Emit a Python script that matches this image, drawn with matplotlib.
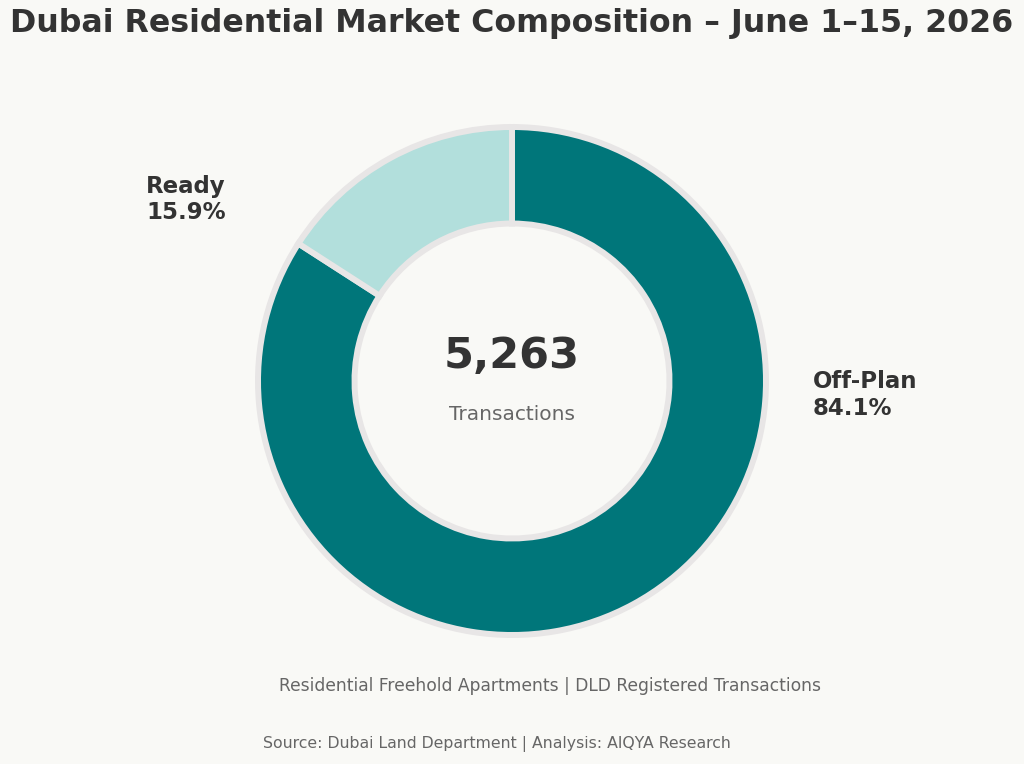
import matplotlib.pyplot as plt

FONT = 'DejaVu Sans'
plt.rcParams['font.family'] = [FONT]

# данные
labels = ['Off-Plan', 'Ready']
shares = [84.1, 15.9]
total = 5263
colors = ['#00767A', '#B2DFDC']

bg = '#F9F9F6'
dark = '#333333'
gray = '#666666'

fig = plt.figure(figsize=(10.24, 7.64), dpi=100, facecolor=bg)

# оси под кольцо: центр (512, 381) px, 1 единица = 254 px
scale = 254
half = 320
ax = fig.add_axes([(512 - half) / 1024, (764 - 381 - half) / 764,
                   2 * half / 1024, 2 * half / 764])
ax.set_facecolor(bg)
ax.pie(shares, colors=colors, startangle=90, counterclock=False, radius=1,
       wedgeprops=dict(width=0.38, edgecolor='#E8E6E6', linewidth=4.3))
lim = half / scale
ax.set_xlim(-lim, lim)
ax.set_ylim(-lim, lim)
ax.set_aspect('equal')
ax.axis('off')

# центр
ax.text(0, 0.10, f'{total:,}', ha='center', va='center', fontsize=31,
        fontweight='bold', color=dark, family=FONT)
ax.text(0, -0.13, 'Transactions', ha='center', va='center', fontsize=14.5,
        color=gray, family=FONT)

# подписи сегментов
ax.text(-1.44, 0.715, f'{labels[1]}\n{shares[1]:.1f}%', ha='left', va='center',
        fontsize=16.5, fontweight='bold', color=dark, clip_on=False, family=FONT)
ax.text(1.185, -0.055, f'{labels[0]}\n{shares[0]:.1f}%', ha='left', va='center',
        fontsize=16.5, fontweight='bold', color=dark, clip_on=False, family=FONT)

fig.text(0.5, 1 - 23.5 / 764, 'Dubai Residential Market Composition – June 1–15, 2026',
         ha='center', va='center', fontsize=22.75, fontweight='bold', color=dark,
         family=FONT)
fig.text(550 / 1024, 1 - 686 / 764,
         'Residential Freehold Apartments | DLD Registered Transactions',
         ha='center', va='center', fontsize=12.3, color=gray, family=FONT)
fig.text(497 / 1024, 1 - 744 / 764,
         'Source: Dubai Land Department | Analysis: AIQYA Research',
         ha='center', va='center', fontsize=11.3, color=gray, family=FONT)

fig.savefig('out.png', dpi=100, facecolor=bg)
